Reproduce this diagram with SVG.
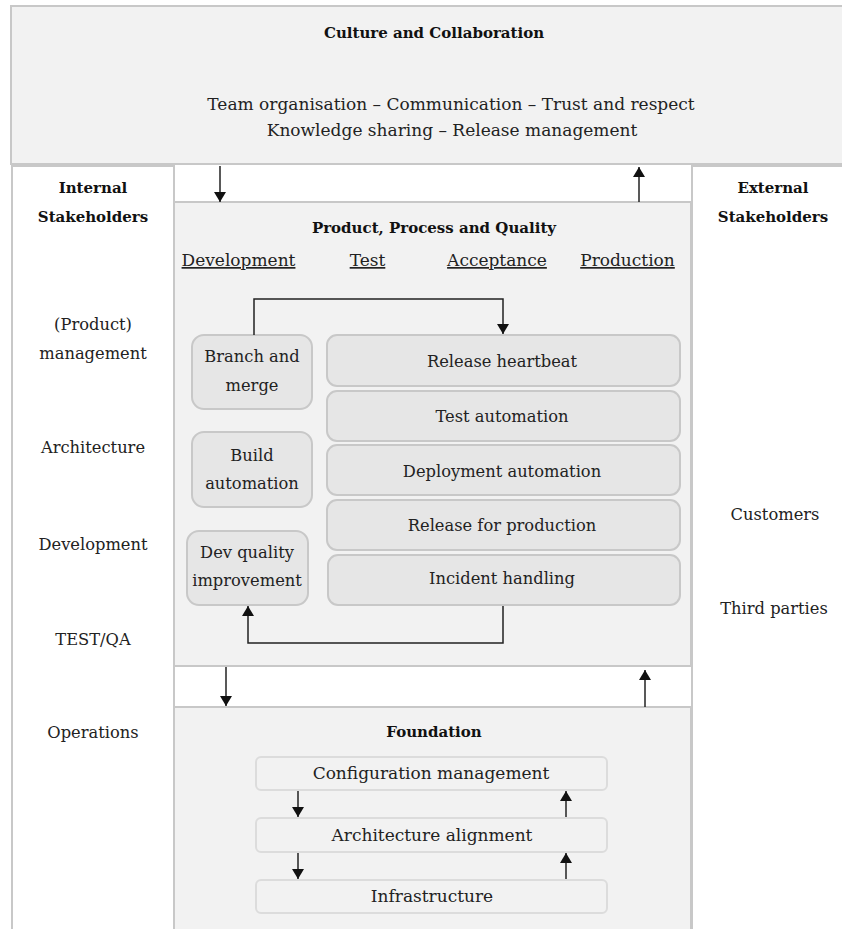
<svg xmlns="http://www.w3.org/2000/svg" width="842" height="929" viewBox="0 0 842 929">
<style>
.panel{fill:#f2f2f2;stroke:#c8c8c8;stroke-width:2}
.side{fill:#ffffff;stroke:#c8c8c8;stroke-width:2}
.node{fill:#e6e6e6;stroke:#c8c8c8;stroke-width:2}
.fnode{fill:#f2f2f2;stroke:#dcdcdc;stroke-width:2}
.t{font-family:"DejaVu Serif","Liberation Serif",serif;font-size:16.3px;fill:#222;text-anchor:middle}
.h{font-family:"DejaVu Serif","Liberation Serif",serif;font-size:17px;fill:#222;text-anchor:middle;text-decoration:underline}
.f{font-family:"DejaVu Serif","Liberation Serif",serif;font-size:17px;fill:#222;text-anchor:middle}
.b{font-family:"DejaVu Serif","Liberation Serif",serif;font-size:15px;font-weight:bold;fill:#111;text-anchor:middle}
.c{fill:none;stroke:#222;stroke-width:1.5}
</style>
<defs>
<marker id="ah" markerUnits="userSpaceOnUse" markerWidth="12" markerHeight="12" refX="10" refY="6" orient="auto">
<path d="M0,0 L10,6 L0,12 Z" fill="#111"/>
</marker>
</defs>

<g id="culture">
<rect class="panel" x="11" y="6" width="840" height="158"/>
<text class="b" x="434" y="38">Culture and Collaboration</text>
<text class="t" x="451" y="110" style="font-size:17px">Team organisation – Communication – Trust and respect</text>
<text class="t" x="452" y="136" style="font-size:17px">Knowledge sharing – Release management</text>
</g>

<g id="internal">
<rect class="side" x="12" y="166" width="162" height="780"/>
<text class="b" x="93" y="193">Internal</text>
<text class="b" x="93" y="222">Stakeholders</text>
<text class="t" x="93" y="330">(Product)</text>
<text class="t" x="93" y="359">management</text>
<text class="t" x="93" y="453">Architecture</text>
<text class="t" x="93" y="550">Development</text>
<text class="t" x="93" y="645">TEST/QA</text>
<text class="t" x="93" y="738">Operations</text>
</g>

<g id="external">
<rect class="side" x="692" y="166" width="160" height="780"/>
<text class="b" x="773" y="193">External</text>
<text class="b" x="773" y="222">Stakeholders</text>
<text class="t" x="775" y="520">Customers</text>
<text class="t" x="774" y="614">Third parties</text>
</g>

<g id="product">
<rect class="panel" x="174" y="202" width="517" height="464"/>
<text class="b" x="434" y="233">Product, Process and Quality</text>
<text class="h" x="238.5" y="266">Development</text>
<text class="h" x="367.5" y="266">Test</text>
<text class="h" x="497" y="266">Acceptance</text>
<text class="h" x="627.5" y="266">Production</text>
</g>

<g id="branch-merge">
<rect class="node" x="192" y="335" width="120" height="74" rx="12"/>
<text class="t" x="252" y="362">Branch and</text>
<text class="t" x="252" y="391">merge</text>
</g>
<g id="build-automation">
<rect class="node" x="192" y="432" width="120" height="75" rx="12"/>
<text class="t" x="252" y="461">Build</text>
<text class="t" x="252" y="489">automation</text>
</g>
<g id="dev-quality">
<rect class="node" x="187" y="531" width="121" height="74" rx="12"/>
<text class="t" x="247" y="558">Dev quality</text>
<text class="t" x="247" y="586">improvement</text>
</g>
<g id="release-heartbeat">
<rect class="node" x="327" y="335" width="353" height="51" rx="10"/>
<text class="t" x="502" y="367">Release heartbeat</text>
</g>
<g id="test-automation">
<rect class="node" x="327" y="391" width="353" height="50" rx="10"/>
<text class="t" x="502" y="422">Test automation</text>
</g>
<g id="deployment-automation">
<rect class="node" x="327" y="445" width="353" height="50" rx="10"/>
<text class="t" x="502" y="477">Deployment automation</text>
</g>
<g id="release-production">
<rect class="node" x="327" y="500" width="353" height="50" rx="10"/>
<text class="t" x="502" y="531">Release for production</text>
</g>
<g id="incident-handling">
<rect class="node" x="328" y="555" width="352" height="50" rx="10"/>
<text class="t" x="502" y="584">Incident handling</text>
</g>

<g id="foundation">
<rect class="panel" x="174" y="707" width="517" height="240"/>
<text class="b" x="434" y="737">Foundation</text>
</g>
<g id="config-management">
<rect class="fnode" x="256" y="757" width="351" height="33" rx="5"/>
<text class="f" x="431" y="779">Configuration management</text>
</g>
<g id="architecture-alignment">
<rect class="fnode" x="256" y="818" width="351" height="34" rx="5"/>
<text class="f" x="432" y="841">Architecture alignment</text>
</g>
<g id="infrastructure">
<rect class="fnode" x="256" y="880" width="351" height="33" rx="5"/>
<text class="f" x="432" y="902">Infrastructure</text>
</g>

<g id="connectors">
<line class="c" x1="220" y1="166" x2="220" y2="202" marker-end="url(#ah)"/>
<line class="c" x1="639" y1="202" x2="639" y2="167" marker-end="url(#ah)"/>
<polyline class="c" points="254,335 254,299 503,299 503,334" marker-end="url(#ah)"/>
<polyline class="c" points="503,606 503,643 248,643 248,606" marker-end="url(#ah)"/>
<line class="c" x1="226" y1="667" x2="226" y2="706" marker-end="url(#ah)"/>
<line class="c" x1="645" y1="707" x2="645" y2="670" marker-end="url(#ah)"/>
<line class="c" x1="298" y1="791" x2="298" y2="817" marker-end="url(#ah)"/>
<line class="c" x1="566" y1="817" x2="566" y2="791" marker-end="url(#ah)"/>
<line class="c" x1="298" y1="853" x2="298" y2="879" marker-end="url(#ah)"/>
<line class="c" x1="566" y1="879" x2="566" y2="853" marker-end="url(#ah)"/>
</g>
</svg>
